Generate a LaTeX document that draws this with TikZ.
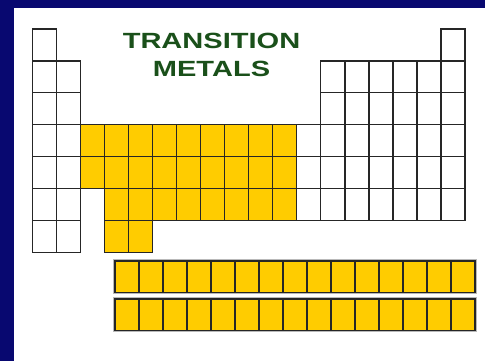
\documentclass[tikz,border=0pt]{standalone}
\usepackage{fontspec}
\setmainfont{Liberation Sans}
\definecolor{navy}{RGB}{8,8,112}
\definecolor{gold}{RGB}{255,204,0}
\definecolor{gridline}{RGB}{38,38,38}
\definecolor{titlegreen}{RGB}{26,80,26}
\tikzset{
  cellw/.style={draw=gridline, line width=1.4pt, fill=white},
  cellg/.style={draw=gridline, line width=1.4pt, fill=gold},
  halo/.style={draw=gray!55, line width=3.2pt},
  titletext/.style={text=titlegreen, font=\fontsize{22}{22}\selectfont\bfseries, xscale=1.32, anchor=base, inner sep=0pt}
}
\newcommand\pcell[3]{\path[#3] ({32.3+(#1-1)*24.04},{29+(#2-1)*31.9}) rectangle ++(24.04,31.9);}
\newcommand\lcell[3]{\path[#3] ({115+(#1-1)*24},{#2}) rectangle ++(24,31.7);}
\begin{document}
\begin{tikzpicture}[x=1pt,y=-1pt]
\useasboundingbox (0,0) rectangle (485,361);
\fill[navy] (0,0) rectangle (485,361);
\fill[white] (14,8) rectangle (485,361);
% title
\node[titletext] (t1) at (211.5,48.5) {TRANSITION};
\node[titletext] (t2) at (211.5,77) {METALS};
% white cells
\foreach \c in {1,18} {\pcell{\c}{1}{cellw}}
\foreach \r in {2,3} {\foreach \c in {1,2,13,14,15,16,17,18} {\pcell{\c}{\r}{cellw}}}
\foreach \r in {4,5,6} {\foreach \c in {1,2,12,13,14,15,16,17,18} {\pcell{\c}{\r}{cellw}}}
\foreach \c in {1,2} {\pcell{\c}{7}{cellw}}
% transition metals
\foreach \r in {4,5} {\foreach \c in {3,...,11} {\pcell{\c}{\r}{cellg}}}
\foreach \c in {4,...,11} {\pcell{\c}{6}{cellg}}
\foreach \c in {4,5} {\pcell{\c}{7}{cellg}}
% inner transition rows
\foreach \y in {261,299} {
  \path[halo] (115,\y) rectangle ++(360,31.7);
  \foreach \c in {1,...,15} {\lcell{\c}{\y}{cellg}}
}
\end{tikzpicture}
\end{document}
